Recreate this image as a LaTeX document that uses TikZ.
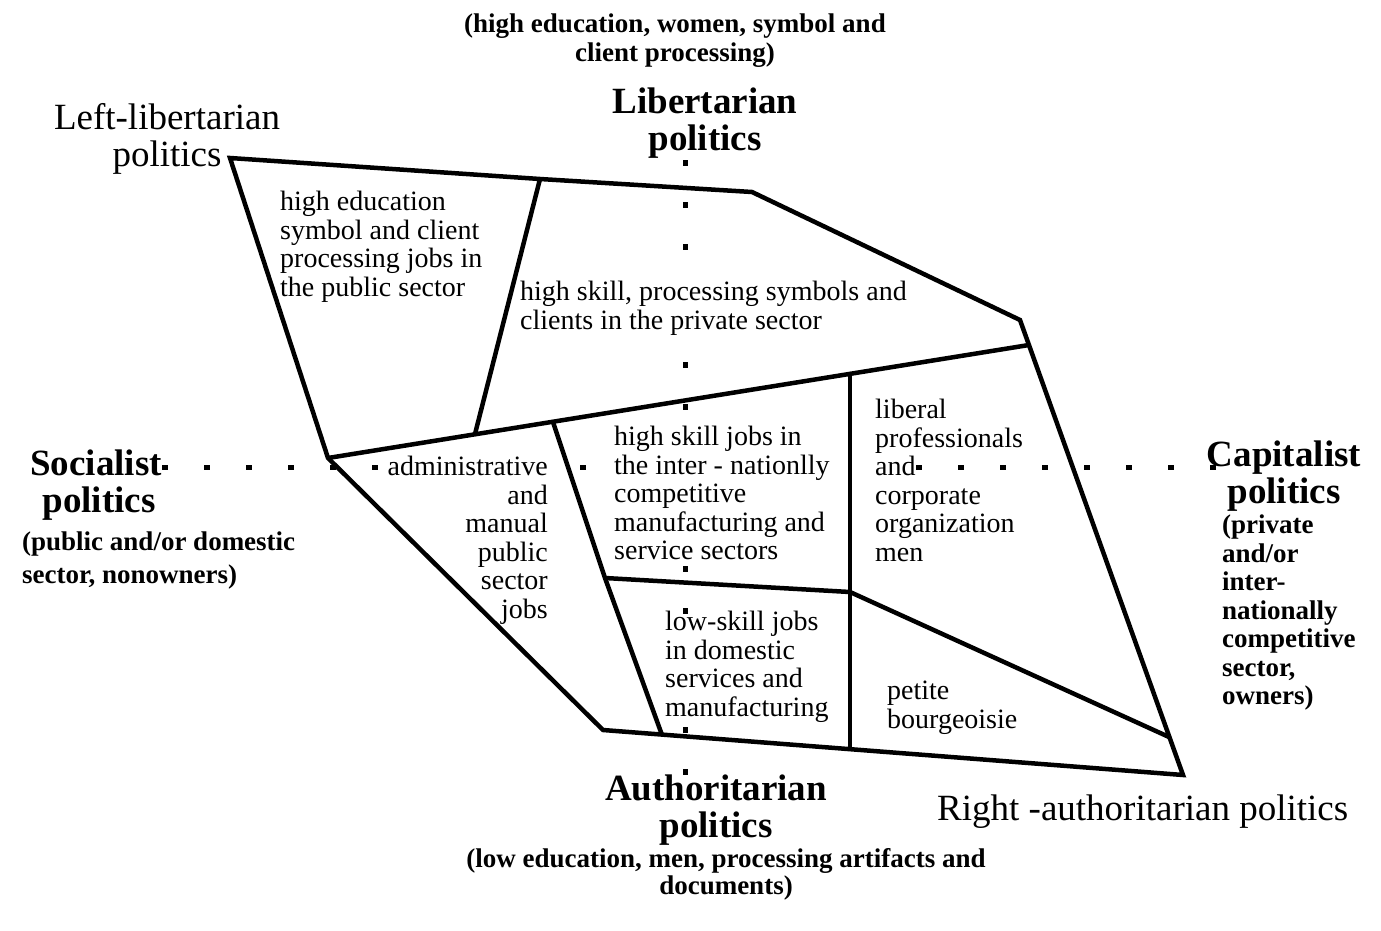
\documentclass[tikz,border=0pt]{standalone}
\usepackage{fontspec}
\setmainfont{Liberation Serif}
\usepackage{tikz}

\tikzset{
  frame/.style={line width=4.5pt, line join=miter},
  dots/.style={line width=5pt, dash pattern=on 6pt off 36pt},
  cell/.style={font=\fontsize{28}{28.5}\selectfont, align=left, inner sep=0pt},
  axis/.style={font=\bfseries\fontsize{37}{37}\selectfont, align=center, inner sep=0pt},
  pole/.style={font=\fontsize{37}{37}\selectfont, align=center, inner sep=0pt},
  note/.style={font=\bfseries\fontsize{27}{28.5}\selectfont, inner sep=0pt}
}

\begin{document}
\begin{tikzpicture}[x=1pt, y=-1pt]
			\useasboundingbox (0,0) rectangle (1381,931);

			% Dotted axes (only the parts not covered by text)
			\coordinate (h1) at (162,467);
			\coordinate (h2) at (380,467);
			\coordinate (h3) at (580,467);
			\coordinate (h4) at (586,467);
			\coordinate (h5) at (916,467);
			\coordinate (h6) at (1216,467);
			\draw[dots] (h1) -- (h2);
			\draw[dots] (h3) -- (h4);
			\draw[dots] (h5) -- (h6);
			\coordinate (v1) at (685,160);
			\coordinate (v2) at (685,250);
			\coordinate (v3) at (685,362);
			\coordinate (v4) at (685,410);
			\coordinate (v5) at (685,566);
			\coordinate (v6) at (685,614);
			\coordinate (v7) at (685,727);
			\coordinate (v8) at (685,775);
			\draw[dots] (v1) -- (v2);
			\draw[dots] (v3) -- (v4);
			\draw[dots] (v5) -- (v6);
			\draw[dots] (v7) -- (v8);

			% Corners of the field
			\coordinate (tl) at (230,158);
			\coordinate (tm) at (540,179);
			\coordinate (tr) at (752,192);
			\coordinate (rt) at (1020,320);
			\coordinate (rb) at (1183,775);
			\coordinate (bl) at (603,730);
			\coordinate (lm) at (328,458);

			% Points on the inner lines
			\coordinate (m1) at (475,434);
			\coordinate (m2) at (553,422);
			\coordinate (m3) at (850,374);
			\coordinate (rm) at (1029,345);
			\coordinate (c1) at (605,578);
			\coordinate (c2) at (850,592);
			\coordinate (rr) at (1169,737);
			\coordinate (b1) at (662,735);
			\coordinate (b2) at (850,749);

			% Outer boundary
			\draw[frame] (tl) -- (tm) -- (tr) -- (rt) -- (rb) -- (bl) -- (lm) -- cycle;

			% Inner divisions
			\draw[frame] (lm) -- (rm);
			\draw[frame] (tm) -- (m1);
			\draw[frame] (m2) -- (c1) -- (b1);
			\draw[frame] (m3) -- (b2);
			\draw[frame] (c1) -- (c2);
			\draw[frame] (c2) -- (rr);

			% Poles
			\node[note, align=center, anchor=north] (topnote) at (675,14) {(high education, women, symbol and\\client processing)};
			\node[axis, anchor=north] (lib) at (705,88) {Libertarian\\politics};
			\node[pole, anchor=north] (leftlib) at (167,103) {Left-libertarian\\politics};
			\node[axis, anchor=north] (soc) at (96,450) {Socialist\\\,politics};
			\node[note, align=left, anchor=north west, font=\bfseries\fontsize{27}{33}\selectfont] (socnote) at (22,532) {(public and/or domestic\\sector, nonowners)};
			\node[axis, anchor=north] (cap) at (1284,441) {Capitalist\\politics};
			\node[note, align=left, anchor=north west] (capnote) at (1222,515) {(private\\and/or\\inter-\\nationally\\competitive\\sector,\\owners)};
			\node[axis, anchor=north] (auth) at (716,775) {Authoritarian\\politics};
			\node[note, align=center, anchor=north, font=\bfseries\fontsize{27}{27}\selectfont] (authnote) at (726,848) {(low education, men, processing artifacts and\\documents)};
			\node[pole, anchor=base west] (rightauth) at (937,820) {Right -authoritarian politics};

			% Cell labels
			\node[cell, anchor=north west] (pubhigh) at (280,191) {high education\\symbol and client\\processing jobs in\\the public sector};
			\node[cell, anchor=north west] (privhigh) at (520,281) {high skill, processing symbols and\\clients in the private sector};
			\node[cell, align=right, anchor=north east] (admin) at (548,456) {administrative\\and\\manual\\public\\sector\\jobs};
			\node[cell, anchor=north west] (intl) at (614,426) {high skill jobs in\\the inter - nationlly\\competitive\\manufacturing and\\service sectors};
			\node[cell, anchor=north west] (liberal) at (875,399) {liberal\\professionals\\and\\corporate\\organization\\men};
			\node[cell, anchor=north west] (lowskill) at (665,611) {low-skill jobs\\in domestic\\services and\\manufacturing};
			\node[cell, anchor=north west] (petite) at (887,681) {petite\\bourgeoisie};
		\end{tikzpicture}
\end{document}
